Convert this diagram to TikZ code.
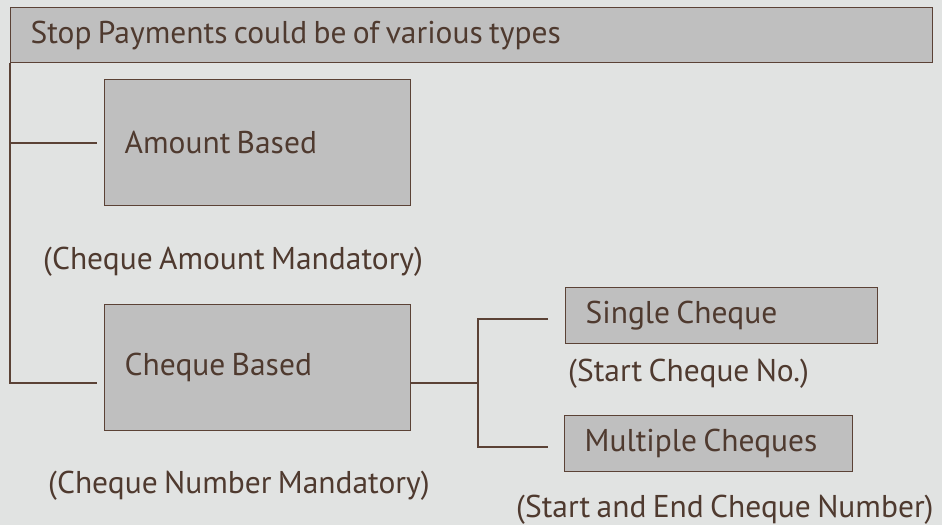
\documentclass[tikz,border=0pt]{standalone}
\usepackage{fontspec}
\setmainfont{PT Sans}[WordSpace=0.75]
\usepackage{tikz}
\definecolor{bgc}{HTML}{E1E3E2}
\definecolor{boxc}{HTML}{BFBFBF}
\definecolor{linec}{HTML}{5B4236}
\definecolor{textc}{HTML}{4F3A2F}
\newcommand\typefont{\fontsize{31.5}{36}\selectfont}
\tikzset{
  typebox/.style = {shape=rectangle, draw=linec, fill=boxc,
                    line width=1.3pt, anchor=north west, align=flush left,
                    inner xsep=20pt, inner ysep=0pt,
                    text=textc, font=\typefont},
  note/.style    = {anchor=base west, inner sep=0pt,
                    text=textc, font=\typefont},
  link/.style    = {draw=linec, line width=1.3pt}
}

\begin{document}
\begin{tikzpicture}[x=1pt,y=-1pt]
  \fill[bgc] (0,0) rectangle (942,525);
  \useasboundingbox (0,0) rectangle (942,525);

  \node[typebox, text width=882pt, minimum height=55pt] (head) at (10,7)
    {Stop Payments could be of various types};
  \node[typebox, text width=266pt, minimum height=126pt] (amount) at (104,79)
    {Amount Based};
  \node[note] (amountnote) at (43,269) {(Cheque Amount Mandatory)};
  \node[typebox, text width=266pt, minimum height=126pt] (cheque) at (104,304)
    {Cheque Based};
  \node[note] (chequenote) at (48,493) {(Cheque Number Mandatory)};
  \node[typebox, text width=272pt, minimum height=56pt] (single) at (565,287)
    {Single Cheque};
  \node[note] (singlenote) at (568,381) {(Start Cheque No.)};
  \node[typebox, text width=248pt, minimum height=56pt] (multi) at (564,415)
    {Multiple Cheques};
  \node[note] (multinote) at (516,517) {(Start and End Cheque Number)};

  \coordinate (amount-in) at (97,143);
  \coordinate (cheque-in) at (97,383);
  \coordinate (fork) at (478,383);
  \coordinate (single-in) at (548,319);
  \coordinate (multi-in) at (548,447);

  \draw[link] (head.south west) |- (amount-in);
  \draw[link] (head.south west) |- (cheque-in);
  \draw[link] (cheque.east |- fork) -- (fork);
  \draw[link] (single-in) -| (fork) |- (multi-in);
\end{tikzpicture}
\end{document}
